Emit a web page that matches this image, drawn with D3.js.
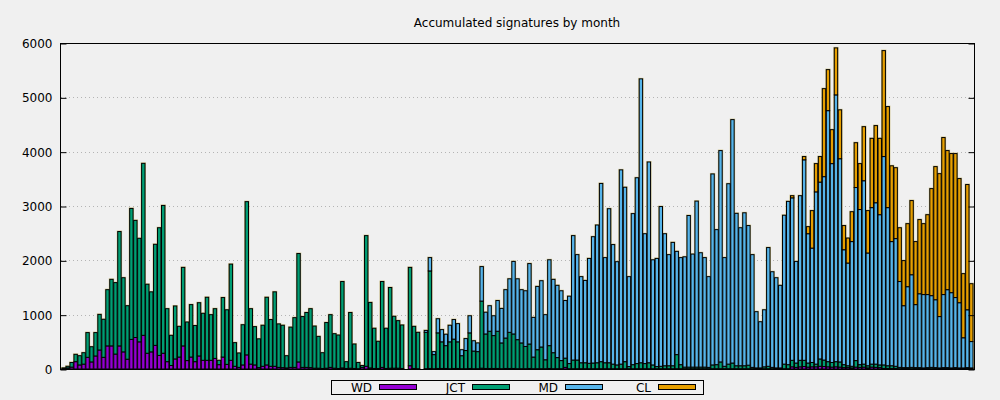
<!DOCTYPE html>
<html><head><meta charset="utf-8">
<script src="https://cdn.jsdelivr.net/npm/d3@7"></script>
<style>body{margin:0;background:#f0f0f0}svg{display:block}text{font-family:"DejaVu Sans",sans-serif;fill:#000}</style>
</head><body><svg id="c" width="1000" height="400"></svg>
<script>
const WD=[
10,20,35,135,75,90,215,130,240,350,215,425,425,275,425,315,180,545,580,500,
620,290,315,435,250,290,135,65,185,220,425,155,220,135,240,160,160,160,195,80,
220,85,160,50,30,75,260,90,75,25,50,75,50,50,30,25,20,30,30,130,
30,30,25,15,15,10,15,30,15,10,20,10,15,10,5,30,50,20,10,10,
30,10,15,15,15,10,0,60,10,5,0,5,10,5,10,10,10,5,10,10,
5,5,10,5,5,15,10,10,10,10,5,10,10,10,5,5,5,10,5,5,
5,5,10,5,5,5,30,5,5,5,5,5,5,5,5,5,5,5,5,5,
5,5,5,5,5,5,5,5,5,5,5,5,5,5,5,5,5,5,5,5,
5,5,5,5,5,5,5,5,5,5,5,5,5,5,5,5,5,5,5,5,
5,5,5,40,30,40,45,35,40,40,50,45,40,35,40,35,25,25,20,35,
30,35,20,35,30,25,10,10,10,10,5,5,5,5,5,5,5,5,5,5,
5,5,5,5,5,5,5,5,5];
const JCT=[
10,30,85,135,170,210,455,280,430,655,700,1035,1225,1315,2105,1365,985,2410,2155,1905,
3165,1270,1105,1860,2350,2720,975,555,975,565,1445,710,965,665,980,865,1160,840,915,80,
1095,1005,1770,435,265,740,2820,1020,705,530,755,1245,860,1370,800,780,225,740,915,1995,
935,1010,1085,775,585,290,840,970,635,615,1590,125,1025,450,115,35,2405,1205,740,500,
1580,740,1485,955,875,800,0,1810,775,670,0,670,1795,260,655,490,420,495,540,490,
240,335,655,325,315,1235,635,685,605,685,475,560,665,635,535,475,410,450,215,350,
400,165,420,295,205,150,170,95,160,160,110,110,100,105,110,130,110,110,85,70,
85,130,40,75,95,110,95,110,70,40,45,55,55,55,260,75,30,30,30,30,
30,30,25,70,75,125,45,85,105,55,55,55,65,25,15,15,35,45,25,15,
15,85,75,120,80,120,115,75,80,50,135,120,95,85,95,95,55,35,30,120,
50,55,40,55,60,50,65,50,50,40,25,20,20,25,20,20,15,20,25,20,
15,20,20,15,20,15,15,20,15];
const MD=[
0,0,0,0,0,0,0,0,0,0,0,0,0,0,0,0,0,0,0,0,
0,0,0,0,0,0,0,0,0,0,0,0,0,0,0,0,0,0,0,0,
0,0,0,0,0,0,0,0,0,0,0,0,0,0,0,0,0,0,0,0,
0,0,0,0,0,0,0,0,0,0,0,0,0,0,0,0,0,0,0,0,
0,0,0,0,0,0,0,0,0,0,0,35,245,55,260,225,210,305,360,335,
110,220,315,190,160,635,400,470,365,565,635,890,985,1335,1120,980,1025,1480,730,1165,
1220,830,1580,1350,1330,1285,1060,1240,2290,1940,1585,1515,1930,2325,2535,3280,1935,2835,2200,1900,
3575,3210,1655,2780,3420,5225,2390,3695,1935,1990,2940,2430,2045,2270,1900,1970,2030,2790,2080,3055,
2105,2015,1670,3515,2485,3890,2000,3320,4480,2805,2540,2815,2570,2075,1035,850,1050,2185,1760,1660,
1520,2740,3005,2990,1870,3030,3690,2380,2105,3170,3255,3375,4620,3660,4910,3740,2115,1890,2295,3185,
2855,3375,2075,2880,2970,2765,3835,2910,2285,2350,1580,1140,1490,1705,1160,1360,1350,1345,1320,1250,
945,1345,1435,1385,1290,1200,555,1065,485];
const CL=[
0,0,0,0,0,0,0,0,0,0,0,0,0,0,0,0,0,0,0,0,
0,0,0,0,0,0,0,0,0,0,0,0,0,0,0,0,0,0,0,0,
0,0,0,0,0,0,0,0,0,0,0,0,0,0,0,0,0,0,0,0,
0,0,0,0,0,0,0,0,0,0,0,0,0,0,0,0,0,0,0,0,
0,0,0,0,0,0,0,0,0,0,0,0,0,0,0,0,0,0,0,0,
0,0,0,0,0,0,0,0,0,0,0,0,0,0,0,0,0,0,0,0,
0,0,0,0,0,0,0,0,0,0,0,0,0,0,0,0,0,0,0,0,
0,0,0,0,0,0,0,0,0,0,0,0,0,0,0,0,0,0,0,0,
0,0,0,0,0,0,0,0,0,0,0,0,0,0,0,0,0,0,0,0,
0,0,0,40,0,0,60,130,690,520,470,1620,755,625,865,900,445,460,550,825,
845,995,780,1275,1420,1405,1950,1860,1395,1305,990,830,1160,1365,1160,1365,1305,1470,1970,2450,
2630,2890,2560,2560,2650,2285,1180,2305,1065];
const seriesNames=["WD","JCT","MD","CL"];
const seriesColors=["#9400d3","#009e73","#56b4e9","#e69f00"];
const yTickValues=[0,1000,2000,3000,4000,5000,6000];
const chartTitle="Accumulated signatures by month";

(function(){
const svg=d3.select("#c");
svg.append("rect").attr("width",1000).attr("height",400).attr("fill","#f0f0f0");
const rows=WD.map((d,i)=>({i,WD:d,JCT:JCT[i],MD:MD[i],CL:CL[i]}));
const stacked=d3.stack().keys(seriesNames)(rows);
const x=d3.scaleBand().domain(rows.map(r=>r.i)).range([62,973]).paddingInner(0.15).paddingOuter(0);
const y=d3.scaleLinear().domain([0,6000]).range([369,43]);

// grid
svg.append("g").selectAll("line").data(yTickValues.filter(v=>v>0&&v<6000)).join("line")
  .attr("x1",61).attr("x2",974).attr("y1",d=>Math.round(y(d))+0.5).attr("y2",d=>Math.round(y(d))+0.5)
  .attr("stroke","#b4b4b4").attr("stroke-width",1).attr("stroke-dasharray","1,3");

// halo behind each bar (anti-aliased border glow)
const totals=stacked[stacked.length-1];
svg.append("g").selectAll("rect").data(totals.filter(d=>d[1]>0)).join("rect")
  .attr("x",d=>x(d.data.i)).attr("width",x.bandwidth())
  .attr("y",d=>y(d[1])).attr("height",d=>y(0)-y(d[1]))
  .attr("fill","none").attr("stroke","#cfc48e").attr("stroke-width",2);

// bars
stacked.forEach((s,k)=>{
  svg.append("g").selectAll("rect").data(s.filter(d=>d[1]-d[0]>0)).join("rect")
    .attr("x",d=>x(d.data.i)).attr("width",x.bandwidth())
    .attr("y",d=>y(d[1])).attr("height",d=>y(d[0])-y(d[1]))
    .attr("fill",seriesColors[k]).attr("stroke","#000").attr("stroke-width",1);
});

// axes
const la=svg.append("g").attr("transform","translate(60.5,0.5)")
  .call(d3.axisLeft(y).tickValues(yTickValues).tickSize(-6).tickPadding(8).tickFormat(d3.format("d")));
la.select(".domain").remove();
la.selectAll("text").attr("font-size",12).attr("font-family","DejaVu Sans").attr("fill","#000");
la.selectAll("line").attr("stroke","#000");
const ra=svg.append("g").attr("transform","translate(974.5,0.5)")
  .call(d3.axisRight(y).tickValues(yTickValues).tickSize(-6).tickFormat(""));
ra.select(".domain").remove();
ra.selectAll("line").attr("stroke","#000");
svg.append("rect").attr("x",60.5).attr("y",43.5).attr("width",914).attr("height",326)
  .attr("fill","none").attr("stroke","#000").attr("stroke-width",1);

// title
svg.append("text").attr("x",517).attr("y",27).attr("text-anchor","middle").attr("font-size",12).text(chartTitle);

// legend
svg.append("rect").attr("x",331.5).attr("y",380.5).attr("width",372).attr("height",14)
  .attr("fill","none").attr("stroke","#000");
const lg=svg.append("g").selectAll("g").data(seriesNames).join("g")
  .attr("transform",(d,k)=>`translate(${93*k},0)`);
lg.append("text").attr("x",372).attr("y",392).attr("text-anchor","end").attr("font-size",12).text(d=>d);
lg.append("rect").attr("x",379.5).attr("y",384.5).attr("width",37).attr("height",5)
  .attr("fill",(d,k)=>seriesColors[k]).attr("stroke","#000");
})();
</script></body></html>
